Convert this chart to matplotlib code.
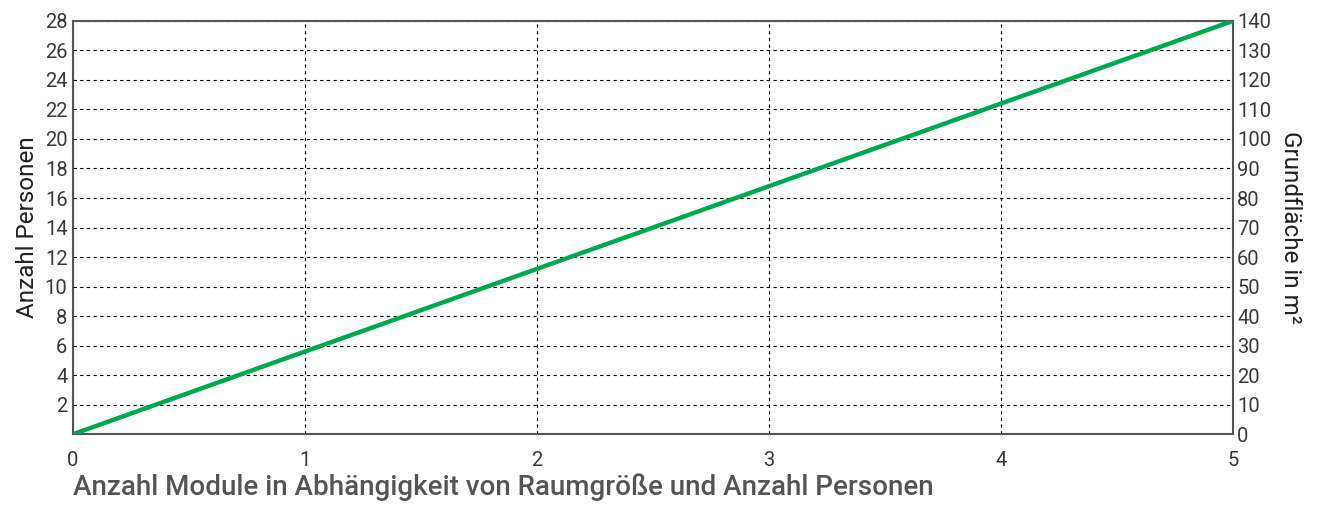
import matplotlib.pyplot as plt

# Daten
module = [0, 1, 2, 3, 4, 5]
personen = [0, 5.6, 11.2, 16.8, 22.4, 28]
y_ticks_links = [2, 4, 6, 8, 10, 12, 14, 16, 18, 20, 22, 24, 26, 28]
y_ticks_rechts = [0, 10, 20, 30, 40, 50, 60, 70, 80, 90, 100, 110, 120, 130, 140]

plt.rcParams['font.family'] = ['Roboto', 'DejaVu Sans']
grau = '#555555'
gruen = '#00a84f'

fig = plt.figure(figsize=(13.23, 5.09), dpi=100)
ax1 = fig.add_axes([0.0552, 0.147, 0.8768, 0.812])

ax1.plot(module, personen, color=gruen, linewidth=3.2, solid_capstyle='butt', zorder=3)
ax1.set_xlim(0, 5)
ax1.set_ylim(0, 28)
ax1.set_xticks(module)
ax1.set_yticks(y_ticks_links)
ax1.grid(True, linestyle=(0, (3, 3)), color='black', linewidth=0.8)
ax1.tick_params(axis='both', length=0, labelsize=14.5, labelcolor='#3a3a3a')
ax1.tick_params(axis='x', pad=12)
ax1.tick_params(axis='y', pad=4)
for s in ax1.spines.values():
    s.set_color(grau)
    s.set_linewidth(1.5)
ax1.set_ylabel('Anzahl Personen', fontsize=17.5, color='#222222', labelpad=4)

# Zweite Achse (Grundfläche)
ax2 = ax1.twinx()
ax2.set_ylim(0, 140)
ax2.set_yticks(y_ticks_rechts)
ax2.tick_params(axis='y', length=0, labelsize=14.5, labelcolor='#3a3a3a', pad=3)
for s in ax2.spines.values():
    s.set_visible(False)
ax2.set_ylabel('Grundfläche in m²', fontsize=17.5, color='#222222',
               rotation=270, labelpad=22)

fig.text(0.0552, 0.0275, 'Anzahl Module in Abhängigkeit von Raumgröße und Anzahl Personen',
         fontsize=20, color=grau, fontweight='medium', va='baseline', ha='left')

plt.savefig('out.png', dpi=100)
